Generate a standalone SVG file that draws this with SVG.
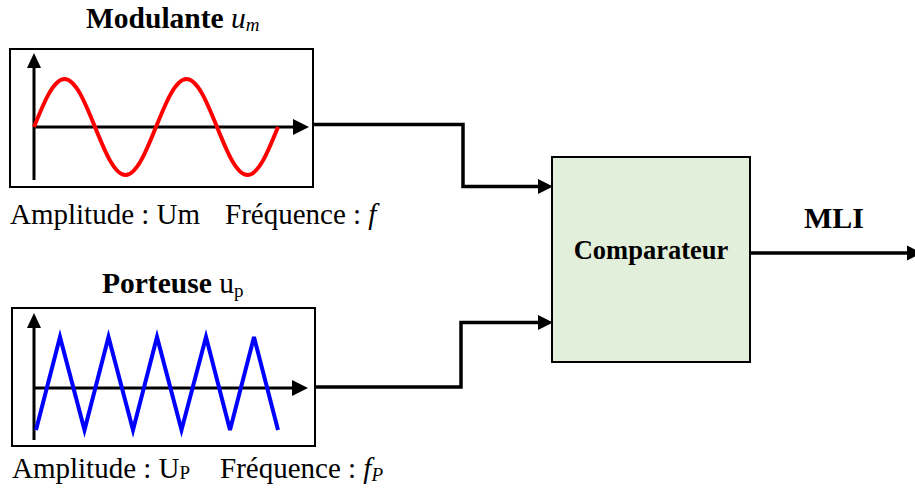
<svg xmlns="http://www.w3.org/2000/svg" width="915" height="488" viewBox="0 0 915 488">
  <style>
    text { font-family: "Liberation Serif", "Times New Roman", serif; fill: #000; }
    .t { font-size: 29px; }
    .h { font-size: 29.5px; }
    .b { font-weight: bold; }
    .i { font-style: italic; }
    .frame { fill: #fff; stroke: #000; stroke-width: 2; }
    .axis { fill: none; stroke: #000; stroke-width: 3; }
    .wire { fill: none; stroke: #000; stroke-width: 3.5; }
    .head { fill: #000; stroke: none; }
  </style>
  <rect width="915" height="488" fill="#fff"/>

  <g id="modulante">
    <text class="h b" x="86" y="28">Modulante <tspan class="i" font-weight="normal">u</tspan><tspan class="i" font-weight="normal" font-size="19" dy="3">m</tspan></text>
    <rect class="frame" x="10" y="49" width="303" height="138"/>
    <line class="axis" x1="34" y1="180" x2="34" y2="66"/>
    <polygon class="head" points="34,53 27,68 41,68"/>
    <line class="axis" x1="34" y1="127" x2="295" y2="127"/>
    <polygon class="head" points="309,127 293,119 293,135"/>
    <path d="M34,127 C44.1,102.04 53.51,79 64.5,79 S84.9,102.04 95,127 S114.51,175 125.5,175 S145.9,151.96 156,127 S175.51,79 186.5,79 S206.9,102.04 217,127 S236.51,175 247.5,175 S267.9,151.96 278,127" fill="none" stroke="#ff0000" stroke-width="4"/>
    <text class="t" x="10" y="224">Amplitude : Um</text>
    <text class="t" x="225" y="224">Fréquence : <tspan class="i">f</tspan></text>
  </g>

  <g id="porteuse">
    <text class="h" x="102" y="293"><tspan class="b">Porteuse</tspan> u<tspan font-size="19" dy="4">p</tspan></text>
    <rect class="frame" x="12" y="308" width="303" height="138"/>
    <line class="axis" x1="34" y1="440" x2="34" y2="326"/>
    <polygon class="head" points="34,313 27,328 41,328"/>
    <line class="axis" x1="34" y1="388" x2="294" y2="388"/>
    <polygon class="head" points="308,388 292,380 292,396"/>
    <polyline points="36,430 60,337 84.5,430 108.5,337 133,430 157,337 181.5,430 206,337 230,430 254,337 278,430" fill="none" stroke="#0000ff" stroke-width="4" stroke-linejoin="miter"/>
    <text class="t" x="12" y="478">Amplitude : U<tspan font-size="19" dy="1">P</tspan></text>
    <text class="t" x="220" y="478">Fréquence : <tspan class="i">f</tspan><tspan class="i" font-size="19" dy="3">P</tspan></text>
  </g>

  <g id="comparateur">
    <rect x="552" y="157" width="198" height="205" fill="#e2efda" stroke="#000" stroke-width="2"/>
    <text class="b" x="651" y="259" font-size="26.5" text-anchor="middle">Comparateur</text>
  </g>

  <g id="mli">
    <text class="b" x="834" y="228" font-size="30" text-anchor="middle">MLI</text>
  </g>

  <g id="connectors">
    <polyline class="wire" points="314,124.5 463,124.5 463,186.5 540,186.5"/>
    <polygon class="head" points="553,186.5 538,179 538,194"/>
    <polyline class="wire" points="316,387 461,387 461,322.5 540,322.5"/>
    <polygon class="head" points="553,322.5 538,315 538,330"/>
    <line class="wire" x1="750" y1="253" x2="910" y2="253"/>
    <polygon class="head" points="922,253 907,245.5 907,260.5"/>
  </g>
</svg>
